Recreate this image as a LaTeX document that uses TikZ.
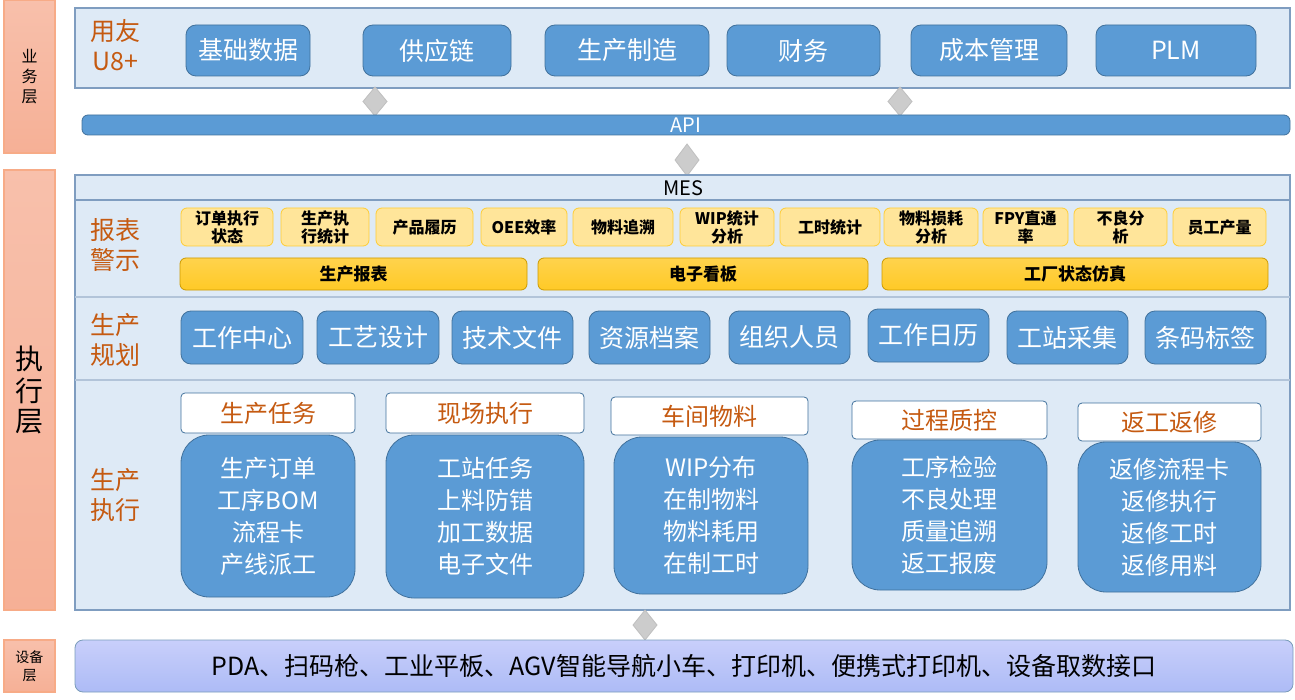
\documentclass[tikz,border=0pt]{standalone}
\usepackage{fontspec}
\setmainfont{Noto Sans CJK SC}
\usetikzlibrary{shapes.arrows}
\definecolor{lb}{HTML}{DEEAF6}
\definecolor{bd}{HTML}{7F9DC0}
\definecolor{bb}{HTML}{5B9BD5}
\definecolor{bbd}{HTML}{41719C}
\definecolor{org}{HTML}{C55A11}
\definecolor{ly}{HTML}{FFE59A}
\definecolor{yb}{HTML}{FFC000}
\definecolor{sal}{HTML}{F6B096}
\tikzset{
 panel/.style={fill=lb,draw=bd,line width=0.8pt},
 side/.style={top color=sal!80,bottom color=sal,draw=sal!90!orange,line width=0.6pt},
 bluebox/.style={fill=bb,draw=bbd,rounded corners=5pt,text=white,font=\fontsize{12.5}{14}\selectfont},
 smallbox/.style={fill=ly,draw=yb!80,rounded corners=3pt,font=\fontsize{8}{9}\selectfont\bfseries,align=center},
 goldbar/.style={top color=yb!70,bottom color=yb!100!black!85,draw=yb!80!black,rounded corners=3pt,font=\fontsize{8.5}{10}\selectfont\bfseries},
 hdr/.style={fill=white,draw=bbd,rounded corners=2pt,text=org,font=\fontsize{12}{14}\selectfont},
 bigbox/.style={fill=bb,draw=bbd,rounded corners=14pt,text=white,align=center,font=\fontsize{12}{16}\selectfont},
 olab/.style={text=org,align=center,font=\fontsize{12.5}{15}\selectfont},
 dia/.style={fill=gray!40,draw=gray!50},
}
\newcommand{\bx}[6]{\node[#1,minimum width=#4*0.5pt-#3*0.5pt,minimum height=#6*0.5pt-#5*0.5pt,inner sep=0pt] (#2) at ({(#3+#4)/2},{(#5+#6)/2})}
\newcommand{\dm}[4]{\path[dia] (#2,#3) -- (#2+12,{(#3+#4)/2}) -- (#2,#4) -- (#2-12,{(#3+#4)/2}) -- cycle; \coordinate (#1) at (#2,#3);}
\begin{document}
\begin{tikzpicture}[x=0.5pt,y=-0.5pt]
\useasboundingbox (0,0) rectangle (1295,700);
% side labels
\bx{side}{s1}{4}{55}{0}{153}{\fontsize{8}{11}\selectfont\shortstack{业\\务\\层}};
\bx{side}{s2}{4}{55}{170}{610}{\fontsize{14}{19}\selectfont\shortstack{执\\行\\层}};
\bx{side}{s3}{4}{55}{640}{692}{\fontsize{7}{9}\selectfont\shortstack{设备\\层}};
% business panel
\bx{panel}{bp}{75}{1290}{8}{88}{};
\node[olab] (yy) at (115,45) {用友\\U8+};
\bx{bluebox}{b1}{186}{310}{25}{76}{基础数据};
\bx{bluebox}{b2}{363}{511}{25}{76}{供应链};
\bx{bluebox}{b3}{545}{709}{25}{76}{生产制造};
\bx{bluebox}{b4}{727}{880}{25}{76}{财务};
\bx{bluebox}{b5}{911}{1067}{25}{76}{成本管理};
\bx{bluebox}{b6}{1096}{1256}{25}{76}{PLM};
\dm{d1}{375}{87}{116}
\dm{d2}{900}{87}{116}
\bx{bluebox,rounded corners=3pt,font=\fontsize{10}{11}\selectfont}{api}{82}{1290}{115}{135}{API};
\dm{d3}{687}{144}{176}
% MES panel
\bx{panel}{mp}{75}{1290}{175}{610}{};
\draw[bd,line width=0.8pt] (75,200) -- (1290,200);
\draw[bd!60,line width=0.6pt] (75,297) -- (1290,297) (75,380) -- (1290,380);
\node[font=\fontsize{10}{12}\selectfont] (mes) at (683,188) {MES};
\node[olab] (l1) at (115,245) {报表\\警示};
\node[olab] (l2) at (115,340) {生产\\规划};
\node[olab] (l3) at (115,495) {生产\\执行};
\bx{smallbox}{r1}{181}{273}{208}{246}{订单执行\\状态};
\bx{smallbox}{r2}{281}{369}{208}{246}{生产执\\行统计};
\bx{smallbox}{r3}{376}{473}{208}{246}{产品履历};
\bx{smallbox}{r4}{481}{567}{208}{246}{OEE效率};
\bx{smallbox}{r5}{573}{673}{208}{246}{物料追溯};
\bx{smallbox}{r6}{680}{774}{208}{246}{WIP统计\\分析};
\bx{smallbox}{r7}{780}{880}{208}{246}{工时统计};
\bx{smallbox}{r8}{884}{978}{208}{246}{物料损耗\\分析};
\bx{smallbox}{r9}{983}{1068}{208}{246}{FPY直通\\率};
\bx{smallbox}{r10}{1074}{1167}{208}{246}{不良分\\析};
\bx{smallbox}{r11}{1173}{1266}{208}{246}{员工产量};
\bx{goldbar}{g1}{180}{527}{258}{290}{生产报表};
\bx{goldbar}{g2}{538}{868}{258}{290}{电子看板};
\bx{goldbar}{g3}{882}{1268}{258}{290}{工厂状态仿真};
\bx{bluebox}{p1}{181}{303}{311}{364}{工作中心};
\bx{bluebox}{p2}{317}{439}{311}{364}{工艺设计};
\bx{bluebox}{p3}{452}{573}{311}{364}{技术文件};
\bx{bluebox}{p4}{589}{710}{311}{364}{资源档案};
\bx{bluebox}{p5}{729}{850}{311}{364}{组织人员};
\bx{bluebox}{p6}{868}{989}{309}{362}{工作日历};
\bx{bluebox}{p7}{1007}{1128}{311}{364}{工站采集};
\bx{bluebox}{p8}{1145}{1266}{311}{364}{条码标签};
\bx{hdr}{h1}{181}{355}{393}{433}{生产任务};
\bx{hdr}{h2}{386}{584}{393}{433}{现场执行};
\bx{hdr}{h3}{611}{808}{397}{435}{车间物料};
\bx{hdr}{h4}{852}{1047}{401}{439}{过程质控};
\bx{hdr}{h5}{1078}{1261}{403}{441}{返工返修};
\bx{bigbox}{e1}{181}{355}{435}{597}{生产订单\\工序BOM\\流程卡\\产线派工};
\bx{bigbox}{e2}{386}{584}{435}{598}{工站任务\\上料防错\\加工数据\\电子文件};
\bx{bigbox}{e3}{614}{808}{437}{594}{WIP分布\\在制物料\\物料耗用\\在制工时};
\bx{bigbox}{e4}{852}{1047}{440}{590}{工序检验\\不良处理\\质量追溯\\返工报废};
\bx{bigbox}{e5}{1078}{1261}{442}{592}{返修流程卡\\返修执行\\返修工时\\返修用料};
\dm{d4}{645}{610}{640}
\node[draw=bbd!70,rounded corners=4pt,minimum width=1218*0.5pt,minimum height=52*0.5pt,inner sep=0pt,font=\fontsize{12.5}{14}\selectfont,top color=bb!40!blue!25,bottom color=bb!55!blue!40] (dev) at (684,666) {PDA、扫码枪、工业平板、AGV智能导航小车、打印机、便携式打印机、设备取数接口};
\end{tikzpicture}
\end{document}
